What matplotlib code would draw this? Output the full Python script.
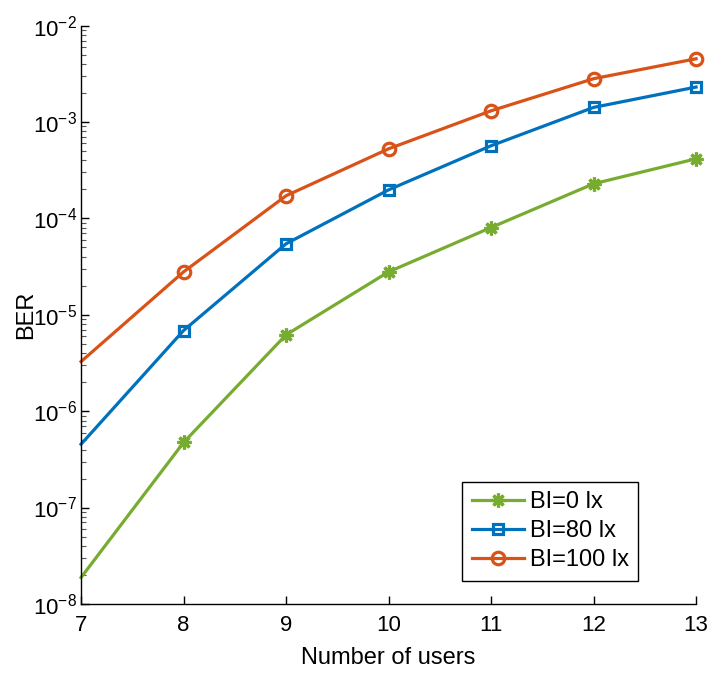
import matplotlib
matplotlib.use('Agg')
import matplotlib.pyplot as plt
from matplotlib.ticker import LogLocator, NullFormatter

plt.rcParams['font.family'] = ['Liberation Sans', 'DejaVu Sans']
plt.rcParams['mathtext.fontset'] = 'custom'
plt.rcParams['mathtext.rm'] = 'Liberation Sans'
plt.rcParams['mathtext.default'] = 'regular'

users = [7, 8, 9, 10, 11, 12, 13]
ber_0lx = [1.88e-8, 4.73e-7, 6.2e-6, 2.79e-5, 8.05e-5, 2.29e-4, 4.16e-4]
ber_80lx = [4.54e-7, 6.87e-6, 5.46e-5, 1.98e-4, 5.68e-4, 1.42e-3, 2.31e-3]
ber_100lx = [3.27e-6, 2.79e-5, 1.72e-4, 5.28e-4, 1.31e-3, 2.82e-3, 4.54e-3]
labels = ['BI=0 lx', 'BI=80 lx', 'BI=100 lx']

fig = plt.figure(figsize=(7.11, 6.77), dpi=100)
ax = fig.add_axes([0.114, 0.108, 0.865, 0.854])

# no marker on the first point (7 users), like the original
mk = list(range(1, len(users)))
ax.plot(users, ber_0lx, color='#77AC30', lw=2.3, marker=(8, 2, 0), ms=10,
        mew=2.3, markevery=mk, label=labels[0], clip_on=False)
ax.plot(users, ber_80lx, color='#0072BD', lw=2.3, marker='s', ms=7.5,
        mew=2.3, mfc='none', markevery=mk, label=labels[1], clip_on=False)
ax.plot(users, ber_100lx, color='#D95319', lw=2.3, marker='o', ms=9,
        mew=2.3, mfc='none', markevery=mk, label=labels[2], clip_on=False)

ax.set_yscale('log')
ax.set_xlim(7, 13)
ax.set_ylim(1e-8, 1e-2)
ax.set_xticks(users)
ax.yaxis.set_major_locator(LogLocator(base=10, numticks=10))
ax.yaxis.set_minor_locator(LogLocator(base=10, subs=range(2, 10), numticks=20))
ax.yaxis.set_minor_formatter(NullFormatter())

for s in ['top', 'right']:
    ax.spines[s].set_visible(False)
for s in ['left', 'bottom']:
    ax.spines[s].set_linewidth(1.0)

ax.tick_params(which='both', direction='in', labelsize=16, top=False, right=False)
ax.tick_params(which='major', length=6, width=1)
ax.tick_params(axis='x', which='major', pad=8)
ax.tick_params(axis='y', which='major', pad=3)
ax.tick_params(which='minor', length=3.5, width=0.8, colors='#555555', labelcolor='k')

ax.set_xlabel('Number of users', fontsize=17, labelpad=8)
ax.set_ylabel('BER', fontsize=17, labelpad=-3)

leg = ax.legend(loc='lower right', bbox_to_anchor=(0.906, 0.04), fontsize=17,
                fancybox=False, framealpha=1, edgecolor='black',
                handlelength=2.2, borderpad=0.4, labelspacing=0.3,
                handletextpad=0.25, borderaxespad=0)
leg.get_frame().set_linewidth(1.0)

fig.savefig('out.png', dpi=100)
